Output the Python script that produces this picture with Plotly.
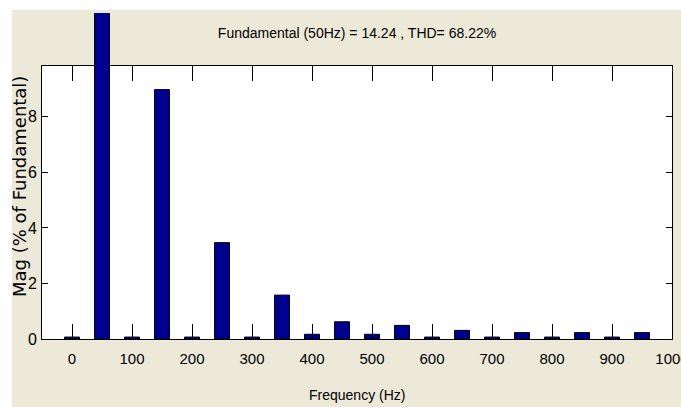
import plotly.graph_objects as go

# Harmonic spectrum (magnitude in % of the 50 Hz fundamental)
freqs = [0, 50, 100, 150, 200, 250, 300, 350, 400, 450, 500,
         550, 600, 650, 700, 750, 800, 850, 900, 950]
mags = [0.07, 100.0, 0.07, 8.98, 0.07, 3.47, 0.07, 1.58, 0.17, 0.62, 0.17,
        0.49, 0.07, 0.31, 0.07, 0.23, 0.07, 0.23, 0.07, 0.23]
fundamental_hz = 50
x_ticks = list(range(0, 1001, 100))
y_ticks = [0, 2, 4, 6, 8]
title_text = "Fundamental (50Hz) = 14.24 , THD= 68.22%"
x_title = "Frequency (Hz)"
y_title = "Mag (% of Fundamental)"

W, H = 681, 407
BOX_L, BOX_R, BOX_T, BOX_B = 42, 672, 66, 339
FIG_L, FIG_T = 12, 10
Y_MAX = 9.83
X_RANGE = [-50, 1000]

BEIGE = "#ECE9D8"
BAR = "#000090"
NARROW = "Liberation Sans, Arial, sans-serif"

xd = [BOX_L / W, BOX_R / W]
yd = [(H - BOX_B) / H, (H - BOX_T) / H]
# an unclipped extension above the box so the fundamental bar can run past it
top2 = FIG_T + 3
yd2 = [(H - BOX_B) / H, (H - top2) / H]
y2_max = Y_MAX * (BOX_B - top2) / (BOX_B - BOX_T)

harm_x = [f for f in freqs if f != fundamental_hz]
harm_y = [m for f, m in zip(freqs, mags) if f != fundamental_hz]
fund_x = [f for f in freqs if f == fundamental_hz]
fund_y = [m for f, m in zip(freqs, mags) if f == fundamental_hz]

bar_style = dict(marker=dict(color=BAR, line=dict(color="black", width=1)),
                 width=25, hoverinfo="x+y", showlegend=False)

fig = go.Figure()
fig.add_trace(go.Bar(x=harm_x, y=harm_y, xaxis="x", yaxis="y", **bar_style))
fig.add_trace(go.Bar(x=fund_x, y=fund_y, xaxis="x2", yaxis="y2", **bar_style))

fig.update_layout(
    width=W, height=H,
    margin=dict(l=0, r=0, t=0, b=0, autoexpand=False),
    paper_bgcolor="white",
    plot_bgcolor="rgba(0,0,0,0)",
    font=dict(family=NARROW, size=15, color="black"),
    title=dict(text=title_text, x=(BOX_L + BOX_R) / 2 / W, xanchor="center",
               y=1 - 33 / H, yanchor="middle",
               font=dict(family=NARROW, size=14, color="black")),
    xaxis=dict(domain=xd, range=X_RANGE, anchor="y", automargin=False,
               tickvals=x_ticks, ticks="inside", ticklen=15, tickcolor="black",
               showline=True, linecolor="black", linewidth=1, mirror="ticks",
               showgrid=False, zeroline=False, ticklabelstandoff=6,
               ticklabeloverflow="allow",
               tickfont=dict(family=NARROW, size=15)),
    yaxis=dict(domain=yd, range=[0, Y_MAX], anchor="x", automargin=False,
               tickvals=y_ticks, ticks="inside", ticklen=6, tickcolor="black",
               showline=True, linecolor="black", linewidth=1, mirror="ticks",
               showgrid=False, zeroline=False, ticklabelstandoff=1,
               tickfont=dict(family=NARROW, size=16)),
    xaxis2=dict(domain=xd, range=X_RANGE, anchor="y2", visible=False),
    yaxis2=dict(domain=yd2, range=[0, y2_max], anchor="x2", visible=False),
    annotations=[
        dict(text=x_title, xref="paper", yref="paper",
             x=(BOX_L + BOX_R) / 2 / W, y=1 - 405 / H,
             xanchor="center", yanchor="bottom", showarrow=False,
             font=dict(family=NARROW, size=14)),
        dict(text=y_title, xref="paper", yref="paper", textangle=-90,
             x=19 / W, y=1 - 187 / H, xanchor="center", yanchor="middle",
             showarrow=False,
             font=dict(family="DejaVu Sans, sans-serif", size=18)),
    ],
    shapes=[
        dict(type="rect", xref="paper", yref="paper",
             x0=FIG_L / W, x1=1, y0=0, y1=1 - FIG_T / H,
             fillcolor=BEIGE, line=dict(width=0), layer="below"),
        dict(type="rect", xref="x domain", yref="y domain",
             x0=0, x1=1, y0=0, y1=1,
             fillcolor="white", line=dict(width=0), layer="below"),
    ],
)

fig.write_html("out.html")
